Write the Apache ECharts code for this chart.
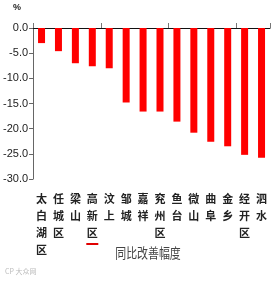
<!DOCTYPE html>
<html>
<head>
<meta charset="utf-8">
<script src="https://cdn.jsdelivr.net/npm/echarts@6/dist/echarts.min.js"></script>
<style>html,body{margin:0;padding:0;background:#fff;}#c{width:280px;height:281px;}</style>
</head>
<body>
<div id="c"></div>
<script>
var categories = ['太白湖区','任城区','梁山','高新区','汶上','邹城','嘉祥','兖州区','鱼台','微山','曲阜','金乡','经开区','泗水'];
var values = [-3.0, -4.6, -7.0, -7.6, -8.0, -14.8, -16.6, -16.6, -18.6, -20.8, -22.6, -23.5, -25.2, -25.8];
var yTicks = [-30, -25, -20, -15, -10, -5, 0];
var unitLabel = '%';
var axisTitle = '同比改善幅度';
var highlighted = '高新区';

var chart = echarts.init(document.getElementById('c'), null, {renderer: 'canvas'});
var narrow = '"Liberation Sans Narrow", "Liberation Sans", sans-serif';
var cjk = '"Noto Sans CJK SC", sans-serif';

function vertical(name) {
  var s = name.split('').join('\n');
  if (name === highlighted) s += '\n{u|}';
  return s;
}

chart.setOption({
  animation: false,
  backgroundColor: '#fff',
  grid: {left: 30, right: 10, top: 28, bottom: 102, containLabel: false},
  xAxis: [{
    type: 'category',
    data: categories,
    position: 'top',
    axisLine: {show: true, onZero: false, lineStyle: {color: '#111', width: 1}},
    axisTick: {show: true, length: 5, lineStyle: {color: '#777'}},
    axisLabel: {show: false}
  }, {
    type: 'category',
    data: categories,
    position: 'bottom',
    axisLine: {show: false},
    axisTick: {show: false},
    axisLabel: {
      show: true, interval: 0, margin: 11,
      formatter: vertical,
      color: '#222', fontSize: 11, fontWeight: 'bold', fontFamily: cjk, lineHeight: 17,
      rich: {u: {width: 12, height: 2, backgroundColor: '#e00000', lineHeight: 6}}
    }
  }],
  yAxis: {
    type: 'value',
    min: yTicks[0], max: yTicks[yTicks.length - 1], interval: 5,
    axisLine: {show: true, lineStyle: {color: '#666'}},
    axisTick: {show: true, length: 4, lineStyle: {color: '#666'}},
    splitLine: {show: false},
    axisLabel: {color: '#222', fontSize: 11, fontFamily: narrow, margin: 5,
      formatter: function (v) { return v.toFixed(1); }}
  },
  series: [{
    type: 'bar',
    xAxisIndex: 0,
    data: values,
    barWidth: 7,
    itemStyle: {color: '#ff0000'}
  }],
  graphic: [
    {type: 'text', left: 13, top: 3, style: {text: unitLabel, fontSize: 9, fontWeight: 'bold', fill: '#222', fontFamily: narrow}},
    {type: 'text', x: 148, y: 253, scaleX: 0.78, style: {text: axisTitle, fontSize: 14, fill: '#444', fontFamily: cjk, align: 'center', verticalAlign: 'middle'}},
    {type: 'text', left: 5, top: 268, style: {text: 'CP 大众网', fontSize: 7, fill: '#bbb', fontFamily: cjk}}
  ]
});
</script>
</body>
</html>
